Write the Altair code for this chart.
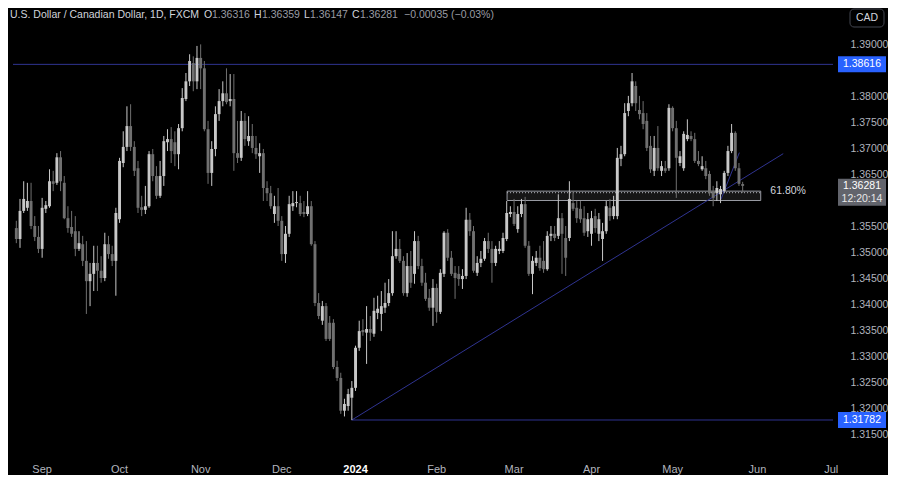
import altair as alt
import pandas as pd

# ---------------- data (daily USD/CAD, FXCM, 2023-08-23 .. 2024-05-28, bar index 0..197) -------------
opens = [
    1.3547, 1.3526, 1.3580, 1.3586, 1.3599, 1.3551, 1.3530, 1.3507, 1.3584, 1.3589,
    1.3637, 1.3634, 1.3683, 1.3634, 1.3566, 1.3549, 1.3541, 1.3507, 1.3516, 1.3484,
    1.3445, 1.3459, 1.3480, 1.3465, 1.3451, 1.3516, 1.3497, 1.3484, 1.3564, 1.3672,
    1.3703, 1.3743, 1.3703, 1.3662, 1.3587, 1.3582, 1.3589, 1.3689, 1.3647, 1.3609,
    1.3647, 1.3712, 1.3718, 1.3712, 1.3689, 1.3739, 1.3795, 1.3829, 1.3864, 1.3829,
    1.3874, 1.3854, 1.3737, 1.3653, 1.3699, 1.3766, 1.3791, 1.3806, 1.3791, 1.3795,
    1.3691, 1.3682, 1.3753, 1.3714, 1.3724, 1.3701, 1.3685, 1.3691, 1.3624, 1.3614,
    1.3574, 1.3589, 1.3561, 1.3497, 1.3536, 1.3589, 1.3595, 1.3595, 1.3578, 1.3574,
    1.3589, 1.3516, 1.3403, 1.3369, 1.3397, 1.3365, 1.3365, 1.3280, 1.3259, 1.3196,
    1.3205, 1.3221, 1.3240, 1.3317, 1.3351, 1.3346, 1.3353, 1.3344, 1.3384, 1.3382,
    1.3394, 1.3403, 1.3422, 1.3493, 1.3507, 1.3484, 1.3422, 1.3474, 1.3459, 1.3522,
    1.3474, 1.3442, 1.3413, 1.3394, 1.3432, 1.3386, 1.3459, 1.3538, 1.3490, 1.3461,
    1.3459, 1.3449, 1.3455, 1.3563, 1.3541, 1.3461, 1.3480, 1.3488, 1.3522, 1.3507,
    1.3480, 1.3503, 1.3503, 1.3526, 1.3574, 1.3578, 1.3545, 1.3574, 1.3593, 1.3513,
    1.3459, 1.3480, 1.3490, 1.3484, 1.3468, 1.3532, 1.3536, 1.3532, 1.3566, 1.3528,
    1.3528, 1.3595, 1.3586, 1.3584, 1.3566, 1.3541, 1.3536, 1.3570, 1.3536, 1.3526,
    1.3541, 1.3586, 1.3570, 1.3570, 1.3680, 1.3689, 1.3772, 1.3787, 1.3820, 1.3774,
    1.3768, 1.3753, 1.3705, 1.3657, 1.3701, 1.3657, 1.3662, 1.3662, 1.3778, 1.3739,
    1.3672, 1.3662, 1.3718, 1.3724, 1.3718, 1.3676, 1.3660, 1.3662, 1.3651, 1.3618,
    1.3614, 1.3612, 1.3618, 1.3653, 1.3695, 1.3730, 1.3662, 1.36316,
]
highs = [
    1.3561, 1.3603, 1.3637, 1.3634, 1.3634, 1.3570, 1.3551, 1.3605, 1.3599, 1.3660,
    1.3657, 1.3691, 1.3695, 1.3647, 1.3589, 1.3580, 1.3570, 1.3541, 1.3532, 1.3522,
    1.3480, 1.3513, 1.3513, 1.3493, 1.3538, 1.3532, 1.3513, 1.3586, 1.3682, 1.3733,
    1.3781, 1.3785, 1.3714, 1.3676, 1.3609, 1.3628, 1.3695, 1.3699, 1.3666, 1.3676,
    1.3724, 1.3737, 1.3741, 1.3733, 1.3747, 1.3816, 1.3845, 1.3881, 1.3877, 1.3897,
    1.3900, 1.3868, 1.3753, 1.3714, 1.3781, 1.3814, 1.3829, 1.3854, 1.3843, 1.3843,
    1.3753, 1.3772, 1.3768, 1.3762, 1.3747, 1.3724, 1.3710, 1.3699, 1.3637, 1.3628,
    1.3609, 1.3624, 1.3570, 1.3551, 1.3609, 1.3618, 1.3618, 1.3609, 1.3599, 1.3618,
    1.3599, 1.3522, 1.3422, 1.3407, 1.3403, 1.3378, 1.3372, 1.3292, 1.3269, 1.3219,
    1.3238, 1.3253, 1.3321, 1.3369, 1.3372, 1.3397, 1.3378, 1.3413, 1.3417, 1.3426,
    1.3442, 1.3449, 1.3541, 1.3541, 1.3526, 1.3493, 1.3499, 1.3503, 1.3541, 1.3532,
    1.3488, 1.3461, 1.3430, 1.3449, 1.3440, 1.3468, 1.3541, 1.3545, 1.3503, 1.3474,
    1.3474, 1.3468, 1.3586, 1.3576, 1.3551, 1.3493, 1.3503, 1.3528, 1.3538, 1.3522,
    1.3513, 1.3522, 1.3538, 1.3599, 1.3589, 1.3603, 1.3589, 1.3603, 1.3607, 1.3522,
    1.3493, 1.3503, 1.3513, 1.3522, 1.3541, 1.3551, 1.3551, 1.3612, 1.3576, 1.3551,
    1.3637, 1.3618, 1.3599, 1.3599, 1.3589, 1.3576, 1.3580, 1.3584, 1.3576, 1.3557,
    1.3599, 1.3603, 1.3609, 1.3701, 1.3705, 1.3787, 1.3801, 1.3845, 1.3829, 1.3801,
    1.3791, 1.3768, 1.3724, 1.3724, 1.3743, 1.3676, 1.3676, 1.3785, 1.3781, 1.3753,
    1.3695, 1.3733, 1.3756, 1.3733, 1.3730, 1.3695, 1.3685, 1.3676, 1.3657, 1.3628,
    1.3637, 1.3628, 1.3657, 1.3705, 1.3747, 1.3733, 1.3672, 1.36359,
]
lows = [
    1.3518, 1.3509, 1.3576, 1.3580, 1.3545, 1.3522, 1.3499, 1.3490, 1.3576, 1.3586,
    1.3618, 1.3630, 1.3618, 1.3564, 1.3538, 1.3530, 1.3493, 1.3503, 1.3474, 1.3382,
    1.3397, 1.3426, 1.3426, 1.3442, 1.3445, 1.3488, 1.3474, 1.3417, 1.3557, 1.3664,
    1.3695, 1.3695, 1.3647, 1.3576, 1.3570, 1.3574, 1.3586, 1.3637, 1.3603, 1.3605,
    1.3628, 1.3695, 1.3672, 1.3666, 1.3660, 1.3733, 1.3791, 1.3820, 1.3810, 1.3814,
    1.3814, 1.3733, 1.3632, 1.3628, 1.3685, 1.3753, 1.3781, 1.3785, 1.3781, 1.3657,
    1.3672, 1.3676, 1.3705, 1.3705, 1.3691, 1.3680, 1.3653, 1.3599, 1.3599, 1.3584,
    1.3557, 1.3551, 1.3484, 1.3480, 1.3530, 1.3580, 1.3587, 1.3570, 1.3568, 1.3570,
    1.3513, 1.3397, 1.3372, 1.3361, 1.3330, 1.3330, 1.3276, 1.3253, 1.3190, 1.3185,
    1.3196, 1.3178, 1.3234, 1.3311, 1.3340, 1.3286, 1.3330, 1.3338, 1.3372, 1.3349,
    1.3384, 1.3397, 1.3417, 1.3488, 1.3480, 1.3417, 1.3415, 1.3432, 1.3440, 1.3468,
    1.3436, 1.3407, 1.3388, 1.3359, 1.3365, 1.3382, 1.3453, 1.3484, 1.3455, 1.3411,
    1.3436, 1.3430, 1.3449, 1.3532, 1.3461, 1.3455, 1.3472, 1.3484, 1.3499, 1.3442,
    1.3474, 1.3497, 1.3499, 1.3522, 1.3568, 1.3551, 1.3538, 1.3568, 1.3509, 1.3455,
    1.3420, 1.3474, 1.3465, 1.3461, 1.3465, 1.3522, 1.3522, 1.3526, 1.3459, 1.3455,
    1.3522, 1.3580, 1.3557, 1.3557, 1.3532, 1.3530, 1.3513, 1.3538, 1.3522, 1.3484,
    1.3536, 1.3561, 1.3564, 1.3564, 1.3666, 1.3685, 1.3762, 1.3781, 1.3772, 1.3756,
    1.3737, 1.3695, 1.3653, 1.3647, 1.3657, 1.3647, 1.3653, 1.3657, 1.3733, 1.3605,
    1.3666, 1.3657, 1.3714, 1.3714, 1.3672, 1.3666, 1.3657, 1.3641, 1.3609, 1.3589,
    1.3599, 1.3595, 1.3614, 1.3647, 1.3691, 1.3657, 1.3628, 1.36147,
]
closes = [
    1.3526, 1.3580, 1.3603, 1.3599, 1.3551, 1.3530, 1.3507, 1.3586, 1.3591, 1.3637,
    1.3632, 1.3683, 1.3637, 1.3566, 1.3547, 1.3536, 1.3507, 1.3518, 1.3484, 1.3445,
    1.3459, 1.3480, 1.3465, 1.3451, 1.3516, 1.3497, 1.3484, 1.3576, 1.3676, 1.3703,
    1.3743, 1.3703, 1.3657, 1.3586, 1.3582, 1.3589, 1.3689, 1.3647, 1.3609, 1.3647,
    1.3714, 1.3718, 1.3695, 1.3689, 1.3739, 1.3797, 1.3829, 1.3868, 1.3829, 1.3874,
    1.3854, 1.3737, 1.3653, 1.3699, 1.3766, 1.3791, 1.3806, 1.3789, 1.3795, 1.3691,
    1.3682, 1.3753, 1.3718, 1.3724, 1.3701, 1.3689, 1.3691, 1.3624, 1.3614, 1.3589,
    1.3589, 1.3561, 1.3497, 1.3536, 1.3593, 1.3595, 1.3597, 1.3574, 1.3574, 1.3589,
    1.3516, 1.3403, 1.3378, 1.3397, 1.3334, 1.3334, 1.3280, 1.3259, 1.3196, 1.3209,
    1.3228, 1.3240, 1.3317, 1.3349, 1.3347, 1.3353, 1.3346, 1.3388, 1.3392, 1.3397,
    1.3403, 1.3422, 1.3493, 1.3507, 1.3484, 1.3422, 1.3474, 1.3442, 1.3522, 1.3474,
    1.3442, 1.3411, 1.3394, 1.3432, 1.3386, 1.3461, 1.3538, 1.3490, 1.3459, 1.3451,
    1.3449, 1.3455, 1.3563, 1.3541, 1.3465, 1.3480, 1.3488, 1.3522, 1.3507, 1.3480,
    1.3507, 1.3507, 1.3528, 1.3576, 1.3578, 1.3555, 1.3574, 1.3593, 1.3513, 1.3459,
    1.3484, 1.3490, 1.3470, 1.3468, 1.3532, 1.3536, 1.3528, 1.3566, 1.3536, 1.3490,
    1.3603, 1.3584, 1.3566, 1.3564, 1.3538, 1.3564, 1.3566, 1.3547, 1.3564, 1.3541,
    1.3589, 1.3570, 1.3589, 1.3682, 1.3689, 1.3768, 1.3787, 1.3829, 1.3787, 1.3766,
    1.3747, 1.3701, 1.3660, 1.3701, 1.3662, 1.3666, 1.3657, 1.3778, 1.3739, 1.3682,
    1.3685, 1.3728, 1.3726, 1.3718, 1.3676, 1.3670, 1.3666, 1.3647, 1.3614, 1.3605,
    1.3624, 1.3622, 1.3653, 1.3695, 1.3730, 1.3662, 1.3632, 1.36281,
]

month_idx = [7, 28, 50, 72, 92, 114, 135, 156, 178, 201, 221]
month_lbl = ["Sep", "Oct", "Nov", "Dec", "2024", "Feb", "Mar", "Apr", "May", "Jun", "Jul"]
# 1.385 and 1.360 sit under the price tags in the reference, so they are not shown
price_ticks = [1.315, 1.32, 1.325, 1.33, 1.335, 1.34, 1.345, 1.35, 1.355,
               1.365, 1.37, 1.375, 1.38, 1.39]

level_prices = [1.38616, 1.31782]
level_start = [-0.9, 91]
trend_x = [91, 191.1]
trend_x2 = [208, 196.1]
trend_y = [1.31782, 1.3602]
trend_y2 = [1.3690, 1.3692]
zone = {"x": 133.1, "x2": 201.9, "lo": 1.3600, "hi": 1.3618, "fib": 1.3615}
fib_label = "61.80%"
last_price = 1.36281
countdown = "12:20:14"

# ---------------- layout -------------
W, H = 830, 447
X_DOM = [-0.9, 221.5]
Y_DOM = [1.3109, 1.3968]
PX = (Y_DOM[1] - Y_DOM[0]) / H  # price units per pixel
FONT = "Liberation Sans"
NAVY = "#2f3390"

xs = alt.Scale(domain=X_DOM, nice=False, zero=False)
ys = alt.Scale(domain=Y_DOM, nice=False, zero=False)
yax = alt.Axis(orient="right", values=price_ticks, format=".5f", title=None, domain=False,
               ticks=False, grid=False, labelColor="#b2b5be", labelFont=FONT,
               labelFontSize=10.5, labelPadding=12)

df = pd.DataFrame({"i": list(range(len(closes))), "open": opens, "high": highs,
                   "low": lows, "close": closes})
df["dir"] = ["up" if c >= o else "down" for o, c in zip(opens, closes)]

X = lambda f: alt.X(f, scale=xs, axis=None)
Y = lambda f: alt.Y(f, scale=ys, axis=yax)

wicks = alt.Chart(df).mark_rule(strokeWidth=1).encode(
    x=X("i:Q"), y=Y("low:Q"), y2="high:Q",
    color=alt.Color("dir:N", scale=alt.Scale(domain=["up", "down"], range=["#c8c8c8", "#707070"]), legend=None),
)
bodies = alt.Chart(df).mark_bar(width=2.9).encode(
    x=X("i:Q"), y=Y("open:Q"), y2="close:Q",
    color=alt.Color("dir:N", scale=alt.Scale(domain=["up", "down"], range=["#e6e6e6", "#707070"]), legend=None),
)

zone_df = pd.DataFrame([zone])
zone_rect = alt.Chart(zone_df).mark_rect(fill="#8a8a8a", fillOpacity=0.16, stroke="#9a9ca4",
                                         strokeWidth=1).encode(
    x=X("x:Q"), x2="x2:Q", y=Y("lo:Q"), y2="hi:Q")
fib_line = alt.Chart(zone_df).mark_rule(color="#b8bac2", strokeWidth=1, strokeDash=[1, 2]).encode(
    x=X("x:Q"), x2="x2:Q", y=Y("fib:Q"))
fib_txt = alt.Chart(pd.DataFrame({"x": [204.5], "y": [zone["hi"]], "t": [fib_label]})).mark_text(
    align="left", baseline="middle", font=FONT, fontSize=10.5, color="#d1d4dc").encode(
    x=X("x:Q"), y=Y("y:Q"), text="t:N")

lev_df = pd.DataFrame({"x": level_start, "x2": [X_DOM[1]] * 2, "y": level_prices})
levels = alt.Chart(lev_df).mark_rule(color=NAVY, strokeWidth=1).encode(
    x=X("x:Q"), x2="x2:Q", y=Y("y:Q"))
tr_df = pd.DataFrame({"x": trend_x, "x2": trend_x2, "y": trend_y, "y2": trend_y2})
trends = alt.Chart(tr_df).mark_rule(color=NAVY, strokeWidth=1).encode(
    x=X("x:Q"), x2="x2:Q", y=Y("y:Q"), y2="y2:Q")

# price tags on the right scale
tag_df = pd.DataFrame({"p": level_prices, "t": [f"{v:.5f}" for v in level_prices]})
tag_df["top"] = tag_df["p"] + 8 * PX
tag_df["bot"] = tag_df["p"] - 8 * PX
tags = alt.Chart(tag_df).mark_rect(fill="#2962ff").encode(
    x=alt.value(W), x2=alt.value(W + 48), y=Y("top:Q"), y2="bot:Q")
tag_txt = alt.Chart(tag_df).mark_text(font=FONT, fontSize=10.5, color="#ffffff",
                                      baseline="middle", align="center").encode(
    x=alt.value(W + 24), y=Y("p:Q"), text="t:N")

cur_df = pd.DataFrame({"p": [last_price], "top": [last_price + 7 * PX], "bot": [last_price - 20 * PX],
                       "p2": [last_price - 13 * PX], "t": [f"{last_price:.5f}"], "t2": [countdown]})
cur_tag = alt.Chart(cur_df).mark_rect(fill="#62646c").encode(
    x=alt.value(W), x2=alt.value(W + 48), y=Y("top:Q"), y2="bot:Q")
cur_t1 = alt.Chart(cur_df).mark_text(font=FONT, fontSize=10.5, color="#ffffff", baseline="middle").encode(
    x=alt.value(W + 24), y=Y("p:Q"), text="t:N")
cur_t2 = alt.Chart(cur_df).mark_text(font=FONT, fontSize=10.5, color="#e8e8e8", baseline="middle").encode(
    x=alt.value(W + 24), y=Y("p2:Q"), text="t2:N")

# month labels along the bottom
m_df = pd.DataFrame({"i": month_idx, "t": month_lbl})
m_norm = m_df[m_df["t"] != "2024"]
m_bold = m_df[m_df["t"] == "2024"]
months = alt.Chart(m_norm).mark_text(font=FONT, fontSize=11, baseline="middle", color="#b2b5be").encode(
    x=X("i:Q"), y=alt.value(H + 14), text="t:N")
months_b = alt.Chart(m_bold).mark_text(font=FONT, fontSize=11, baseline="middle", color="#ffffff",
                                       fontWeight="bold").encode(
    x=X("i:Q"), y=alt.value(H + 14), text="t:N")

one = pd.DataFrame({"a": [0]})


def label(txt, x, color, size=10.5):
    return alt.Chart(one).mark_text(text=txt, font=FONT, fontSize=size, color=color,
                                    align="left", baseline="top").encode(
        x=alt.value(x), y=alt.value(1))


header = [
    label("U.S. Dollar / Canadian Dollar, 1D, FXCM", 2, "#d1d4dc"),
    label("O", 196, "#d1d4dc"), label("1.36316", 204, "#9a9ca4"),
    label("H", 246, "#d1d4dc"), label("1.36359", 254, "#9a9ca4"),
    label("L", 296, "#d1d4dc"), label("1.36147", 302, "#9a9ca4"),
    label("C", 344, "#d1d4dc"), label("1.36281", 352, "#9a9ca4"),
    label("\u22120.00035 (\u22120.03%)", 396, "#9a9ca4"),
]

cad_box = alt.Chart(one).mark_rect(cornerRadius=4, fill="#000000", stroke="#434651", strokeWidth=1).encode(
    x=alt.value(W + 12), x2=alt.value(W + 46), y=alt.value(0), y2=alt.value(18))
cad_txt = alt.Chart(one).mark_text(text="CAD", font=FONT, fontSize=10.5, color="#d1d4dc",
                                   baseline="middle").encode(x=alt.value(W + 29), y=alt.value(9))

chart = alt.layer(
    zone_rect, fib_line, levels, trends, wicks, bodies, fib_txt,
    tags, tag_txt, cur_tag, cur_t1, cur_t2, months, months_b, *header, cad_box, cad_txt,
).properties(
    width=W, height=H, padding=0, background="#000000",
).configure_view(strokeWidth=0)

chart.save("out.html", embed_options={"renderer": "svg", "actions": False})
